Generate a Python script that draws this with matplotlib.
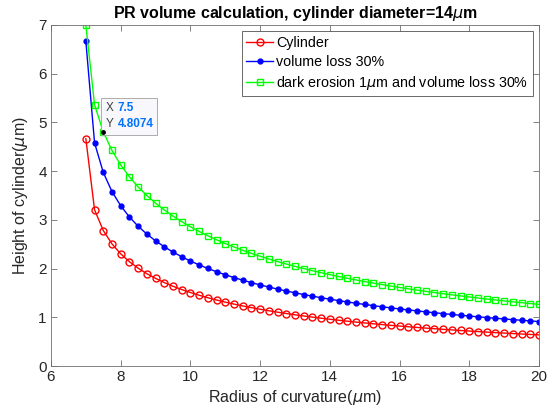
import matplotlib
matplotlib.use('Agg')
import matplotlib.pyplot as plt
from matplotlib.offsetbox import TextArea, HPacker, VPacker, AnnotationBbox

plt.rcParams['font.family'] = ['Liberation Sans', 'DejaVu Sans']
plt.rcParams['mathtext.fontset'] = 'dejavusans'

# radius of curvature (um), 7 .. 20 in steps of 0.25
radius = [7.00, 7.25, 7.50, 7.75, 8.00, 8.25, 8.50, 8.75, 9.00, 9.25, 9.50, 9.75,
          10.00, 10.25, 10.50, 10.75, 11.00, 11.25, 11.50, 11.75, 12.00, 12.25, 12.50, 12.75,
          13.00, 13.25, 13.50, 13.75, 14.00, 14.25, 14.50, 14.75, 15.00, 15.25, 15.50, 15.75,
          16.00, 16.25, 16.50, 16.75, 17.00, 17.25, 17.50, 17.75, 18.00, 18.25, 18.50, 18.75,
          19.00, 19.25, 19.50, 19.75, 20.00]

cylinder = [4.6667, 3.2058, 2.7816, 2.5065, 2.3026, 2.1413, 2.0083, 1.8958, 1.7987, 1.7135,
            1.6378, 1.5700, 1.5087, 1.4530, 1.4019, 1.3549, 1.3115, 1.2711, 1.2335, 1.1984,
            1.1655, 1.1346, 1.1054, 1.0779, 1.0519, 1.0272, 1.0038, 0.9815, 0.9603, 0.9400,
            0.9207, 0.9022, 0.8845, 0.8675, 0.8512, 0.8356, 0.8205, 0.8060, 0.7921, 0.7787,
            0.7657, 0.7532, 0.7411, 0.7294, 0.7181, 0.7072, 0.6966, 0.6863, 0.6764, 0.6667,
            0.6573, 0.6482, 0.6394]

vol_loss = [6.6667, 4.5797, 3.9737, 3.5807, 3.2894, 3.0590, 2.8690, 2.7083, 2.5696, 2.4479,
            2.3397, 2.2429, 2.1553, 2.0757, 2.0027, 1.9356, 1.8736, 1.8159, 1.7621, 1.7120,
            1.6650, 1.6209, 1.5791, 1.5399, 1.5027, 1.4674, 1.4340, 1.4021, 1.3719, 1.3429,
            1.3153, 1.2889, 1.2636, 1.2393, 1.2160, 1.1937, 1.1721, 1.1514, 1.1316, 1.1124,
            1.0939, 1.0760, 1.0587, 1.0420, 1.0259, 1.0103, 0.9951, 0.9804, 0.9663, 0.9524,
            0.9390, 0.9260, 0.9134]

dark_erosion = [7.0000, 5.3625, 4.8074, 4.4240, 4.1270, 3.8839, 3.6782, 3.5000, 3.3431, 3.2033,
                3.0774, 2.9631, 2.8586, 2.7625, 2.6738, 2.5914, 2.5147, 2.4430, 2.3759, 2.3127,
                2.2532, 2.1970, 2.1438, 2.0934, 2.0456, 2.0000, 1.9566, 1.9152, 1.8756, 1.8378,
                1.8016, 1.7668, 1.7335, 1.7015, 1.6707, 1.6410, 1.6125, 1.5850, 1.5584, 1.5328,
                1.5081, 1.4841, 1.4610, 1.4386, 1.4169, 1.3958, 1.3755, 1.3557, 1.3365, 1.3178,
                1.2997, 1.2821, 1.2650]

labels = ['Cylinder', 'volume loss 30%', r'dark erosion 1$\mu$m and volume loss 30%']
tip_idx = 2  # data tip on the green curve

fig = plt.figure(figsize=(5.53, 4.15), dpi=100)
ax = fig.add_axes([0.0922, 0.118, 0.8825, 0.8218])

ax.plot(radius, cylinder, '-o', color='red', lw=1.0, ms=5, mfc='none', mew=1.0, label=labels[0])
ax.plot(radius, vol_loss, '-o', color='blue', lw=1.0, ms=3.5, mfc='blue', mew=1.0, label=labels[1])
ax.plot(radius, dark_erosion, '-s', color='#00ff00', lw=1.0, ms=4.5, mfc='none', mew=1.0, label=labels[2])

ax.set_xlim(6, 20)
ax.set_ylim(0, 7)
ax.set_xticks(range(6, 21, 2))
ax.set_yticks(range(0, 8))

grey = '#262626'
for s in ax.spines.values():
    s.set_color('#6e6e6e')
    s.set_linewidth(0.6)
ax.tick_params(direction='in', length=4, width=0.6, color='#6e6e6e', labelcolor=grey,
               labelsize=11, top=True, right=True, pad=3)

ax.set_xlabel(r'Radius of curvature($\mu$m)', fontsize=11.5, color=grey, labelpad=3)
ax.set_ylabel(r'Height of cylinder($\mu$m)', fontsize=11.5, color=grey, labelpad=6)
ax.set_title(r'PR volume calculation, cylinder diameter=14$\mu$m', fontsize=11.5,
             fontweight='bold', color='black', pad=5)

leg = ax.legend(loc='upper right', fontsize=10.3, frameon=True, fancybox=False,
                edgecolor='#262626', borderpad=0.3, labelspacing=0.35, handlelength=1.9,
                handletextpad=0.2, borderaxespad=0.45)
leg.get_frame().set_linewidth(0.6)

# data tip
tx, ty = radius[tip_idx], dark_erosion[tip_idx]
ax.plot(tx, ty, 'o', color='black', ms=2.5, zorder=5)
tp_lbl = dict(color='#404040', fontsize=8.5)
tp_val = dict(color='#0072ff', fontsize=8.5, fontweight='semibold')
row1 = HPacker(children=[TextArea('X', textprops=tp_lbl), TextArea('%g' % tx, textprops=tp_val)],
               pad=0, sep=3)
row2 = HPacker(children=[TextArea('Y', textprops=tp_lbl), TextArea('%.4f' % ty, textprops=tp_val)],
               pad=0, sep=3)
box = VPacker(children=[row1, row2], pad=0, sep=3)
ab = AnnotationBbox(box, (tx, ty), xybox=(1.5, 1), xycoords='data', boxcoords='offset points',
                    box_alignment=(0, 0), frameon=True, pad=0.4,
                    bboxprops=dict(boxstyle='square', facecolor='#f7f7fc', edgecolor='#a0a0a0', lw=0.6))
ax.add_artist(ab)

fig.savefig('out.png', dpi=100)
